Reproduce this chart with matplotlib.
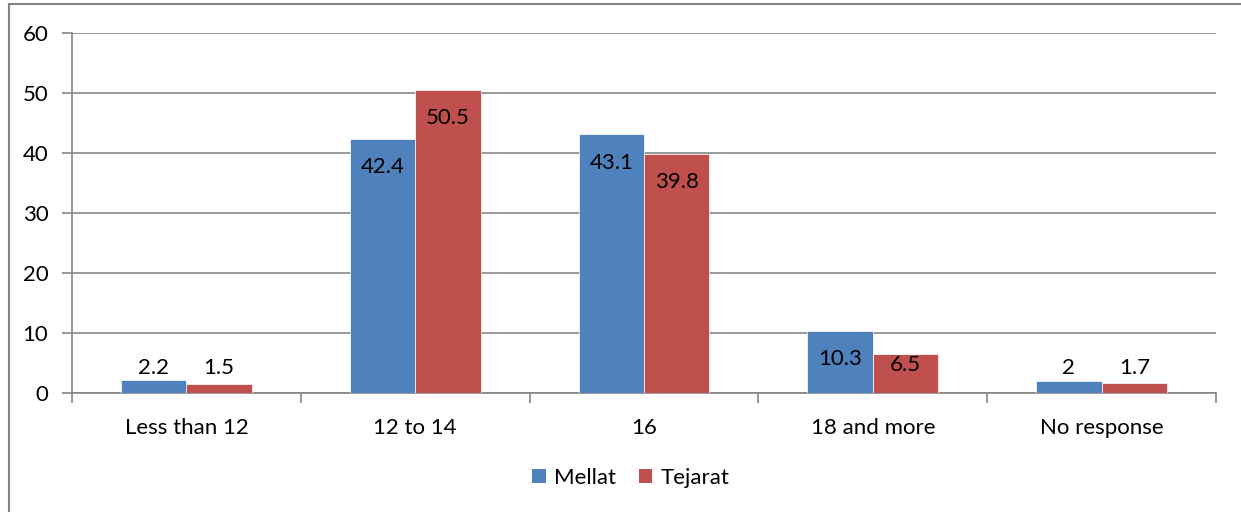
import matplotlib
matplotlib.use("Agg")
import matplotlib.pyplot as plt
import numpy as np
from matplotlib.lines import Line2D
from matplotlib.patches import Patch

categories = ["Less than 12", "12 to 14", "16", "18 and more", "No response"]
mellat = [2.2, 42.4, 43.1, 10.3, 2]
tejarat = [1.5, 50.5, 39.8, 6.5, 1.7]
series_names = ["Mellat", "Tejarat"]
yticks = [0, 10, 20, 30, 40, 50, 60]

plt.rcParams['font.family'] = ['Lato', 'DejaVu Sans']
BLUE = "#4F81BD"
RED = "#C0504D"
GRID = "#868686"
FS = 16

fig = plt.figure(figsize=(12.41, 5.12), dpi=100)
ax = fig.add_axes([72/1241, 1-393/512, (1216-72)/1241, 360/512])

x = np.arange(len(categories))
w = 0.2857
b1 = ax.bar(x - w/2, mellat, w, color=BLUE, edgecolor="white", linewidth=0.5, zorder=3)
b2 = ax.bar(x + w/2, tejarat, w, color=RED, edgecolor="white", linewidth=0.5, zorder=3)

ax.set_xlim(-0.5, len(categories) - 0.5)
ax.set_ylim(0, 60)
ax.set_yticks(yticks)
ax.set_yticklabels([str(t) for t in yticks])
ax.yaxis.grid(True, color=GRID, linewidth=1.2, zorder=0)
ax.set_axisbelow(True)

ax.set_xticks(x)
ax.set_xticklabels(categories)
ax.set_xticks(np.arange(-0.5, len(categories)), minor=True)
ax.tick_params(axis='x', which='major', length=0, pad=18, labelsize=FS, colors='black')
ax.tick_params(axis='x', which='minor', length=7, width=1.2, color=GRID, direction='out')
ax.tick_params(axis='y', length=7, width=1.2, color=GRID, pad=10, labelsize=FS)

for s in ['top', 'right']:
    ax.spines[s].set_visible(False)
for s in ['left', 'bottom']:
    ax.spines[s].set_color(GRID)
    ax.spines[s].set_linewidth(1.2)

def label(bars, vals):
    for rect, v in zip(bars, vals):
        cx = rect.get_x() + rect.get_width()/2
        ypos = max(v - 4.7, 4.0 + 0.1*v)
        ax.text(cx, ypos, f"{v:g}", ha='center', va='center', fontsize=FS, color='black', zorder=4)

label(b1, mellat)
label(b2, tejarat)

handles = [Patch(facecolor=BLUE, edgecolor='none'), Patch(facecolor=RED, edgecolor='none')]
fig.legend(handles, series_names, loc='center', bbox_to_anchor=(631/1241, 1-478/512),
           ncol=2, frameon=False, fontsize=FS, handlelength=0.6, handleheight=0.6,
           handletextpad=0.4, columnspacing=1.0)

# outer chart frame
fig.add_artist(Line2D([9/1241, 9/1241], [0, 1-4/512], color=GRID, linewidth=1.5, transform=fig.transFigure))
fig.add_artist(Line2D([9/1241, 1], [1-4/512, 1-4/512], color=GRID, linewidth=1.5, transform=fig.transFigure))

fig.savefig("out.png", dpi=100)
